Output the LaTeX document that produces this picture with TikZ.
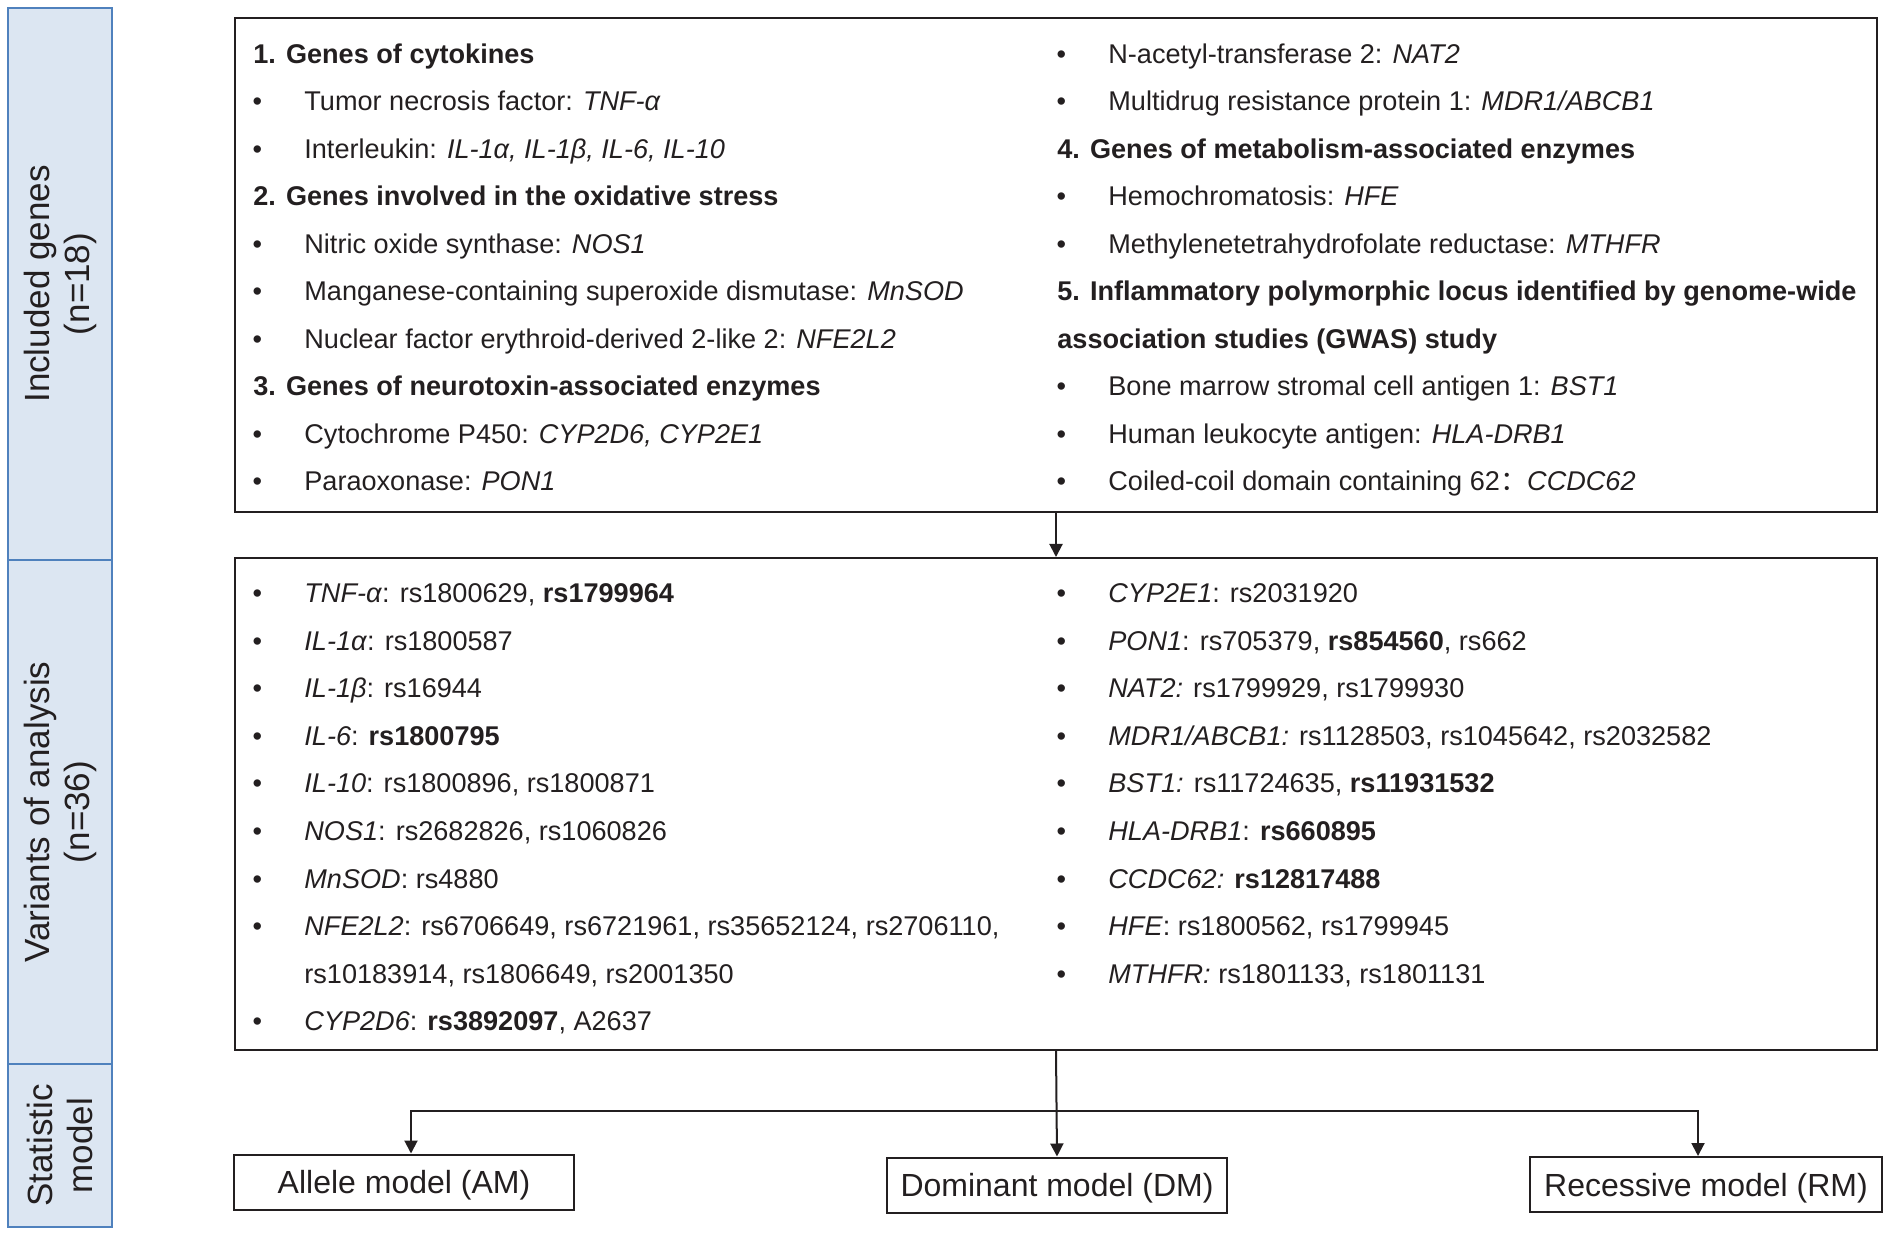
\documentclass[tikz,border=0pt]{standalone}
\usepackage{fontspec}
\setmainfont{Liberation Sans}
\newfontfamily\cjk{Noto Sans CJK SC}
\usetikzlibrary{arrows.meta}

\definecolor{sidefill}{RGB}{220,230,242}
\definecolor{sideline}{RGB}{79,129,189}
\definecolor{ink}{RGB}{35,31,32}
\newcommand{\itm}{\llap{\makebox[0pt]{\textbullet}\hspace{23.5pt}}}

\begin{document}
\begin{tikzpicture}[x=0.5pt, y=-0.5pt,
    side/.style={draw=sideline, line width=1pt, fill=sidefill, minimum width=52pt},
    sidetxt/.style={rotate=90, align=center, inner sep=0pt, text=ink,
      font=\fontsize{17.5}{20}\selectfont},
    box/.style={draw=ink, line width=1pt, minimum width=821pt},
    model/.style={draw=ink, line width=1pt, minimum width=170pt, minimum height=27.5pt,
      text depth=0pt, text=ink, font=\fontsize{16}{19}\selectfont},
    txt/.style={anchor=base west, inner sep=0pt, text=ink, font=\fontsize{13.55}{16}\selectfont},
    hd/.style={txt, font=\fontsize{13.55}{16}\selectfont\bfseries},
    arr/.style={draw=ink, line width=1pt, -{Triangle[length=6.5pt, width=6.5pt]}}]
  \useasboundingbox (0,0) rectangle (1890,1234);

  % side bar
  \node[side, minimum height=276pt] (s1) at (60,284) {};
  \node[side, minimum height=252pt] (s2) at (60,812) {};
  \node[side, minimum height=81.5pt] (s3) at (60,1145.5) {};
  \node[sidetxt] (s1t) at (s1) {Included genes\\(n=18)};
  \node[sidetxt] (s2t) at (s2) {Variants of analysis\\(n=36)};
  \node[sidetxt] (s3t) at (s3) {Statistic\\model};

  % boxes
  \node[box, minimum height=247pt] (genes) at (1056,265) {};
  \node[box, minimum height=246pt] (variants) at (1056,804) {};
  \node[model] (am) at (404,1182) {Allele model (AM)};
  \node[model] (dm) at (1057,1185) {Dominant model (DM)};
  \node[model, minimum width=176pt] (rm) at (1706,1184.5) {Recessive model (RM)};

  % included genes, left
  \node[hd] (h1) at (253,63.5) {1. Genes of cytokines};
  \node[txt] (g1) at (304,111) {\itm Tumor necrosis factor: \textit{TNF-α}};
  \node[txt] (g2) at (304,158.5) {\itm Interleukin: \textit{IL-1α, IL-1β, IL-6, IL-10}};
  \node[hd] (h2) at (253,206) {2. Genes involved in the oxidative stress};
  \node[txt] (g3) at (304,253.5) {\itm Nitric oxide synthase: \textit{NOS1}};
  \node[txt] (g4) at (304,301) {\itm Manganese-containing superoxide dismutase: \textit{MnSOD}};
  \node[txt] (g5) at (304,348.5) {\itm Nuclear factor erythroid-derived 2-like 2: \textit{NFE2L2}};
  \node[hd] (h3) at (253,396) {3. Genes of neurotoxin-associated enzymes};
  \node[txt] (g6) at (304,443.5) {\itm Cytochrome P450: \textit{CYP2D6, CYP2E1}};
  \node[txt] (g7) at (304,491) {\itm Paraoxonase: \textit{PON1}};

  % included genes, right
  \node[txt] (g8) at (1108,63.5) {\itm N-acetyl-transferase 2: \textit{NAT2}};
  \node[txt] (g9) at (1108,111) {\itm Multidrug resistance protein 1: \textit{MDR1/ABCB1}};
  \node[hd] (h4) at (1057,158.5) {4. Genes of metabolism-associated enzymes};
  \node[txt] (g10) at (1108,206) {\itm Hemochromatosis: \textit{HFE}};
  \node[txt] (g11) at (1108,253.5) {\itm Methylenetetrahydrofolate reductase: \textit{MTHFR}};
  \node[hd] (h5) at (1057,301) {5. Inflammatory polymorphic locus identified by genome-wide};
  \node[hd] (h5b) at (1057,348.5) {association studies (GWAS) study};
  \node[txt] (g12) at (1108,396) {\itm Bone marrow stromal cell antigen 1: \textit{BST1}};
  \node[txt] (g13) at (1108,443.5) {\itm Human leukocyte antigen: \textit{HLA-DRB1}};
  \node[txt] (g14) at (1108,491) {\itm Coiled-coil domain containing 62{\cjk ：}\textit{CCDC62}};

  % variants, left
  \node[txt] (v1) at (304,602.5) {\itm \textit{TNF-α}: rs1800629, \textbf{rs1799964}};
  \node[txt] (v2) at (304,650.1) {\itm \textit{IL-1α}: rs1800587};
  \node[txt] (v3) at (304,697.7) {\itm \textit{IL-1β}: rs16944};
  \node[txt] (v4) at (304,745.3) {\itm \textit{IL-6}: \textbf{rs1800795}};
  \node[txt] (v5) at (304,792.9) {\itm \textit{IL-10}: rs1800896, rs1800871};
  \node[txt] (v6) at (304,840.5) {\itm \textit{NOS1}: rs2682826, rs1060826};
  \node[txt] (v7) at (304,888.1) {\itm \textit{MnSOD}: rs4880};
  \node[txt] (v8) at (304,935.7) {\itm \textit{NFE2L2}: rs6706649, rs6721961, rs35652124, rs2706110,};
  \node[txt] (v8b) at (304,983.3) {rs10183914, rs1806649, rs2001350};
  \node[txt] (v9) at (304,1030.9) {\itm \textit{CYP2D6}: \textbf{rs3892097}, A2637};

  % variants, right
  \node[txt] (v10) at (1108,602.5) {\itm \textit{CYP2E1}: rs2031920};
  \node[txt] (v11) at (1108,650.1) {\itm \textit{PON1}: rs705379, \textbf{rs854560}, rs662};
  \node[txt] (v12) at (1108,697.7) {\itm \textit{NAT2:} rs1799929, rs1799930};
  \node[txt] (v13) at (1108,745.3) {\itm \textit{MDR1/ABCB1:} rs1128503, rs1045642, rs2032582};
  \node[txt] (v14) at (1108,792.9) {\itm \textit{BST1:} rs11724635, \textbf{rs11931532}};
  \node[txt] (v15) at (1108,840.5) {\itm \textit{HLA-DRB1}: \textbf{rs660895}};
  \node[txt] (v16) at (1108,888.1) {\itm \textit{CCDC62:} \textbf{rs12817488}};
  \node[txt] (v17) at (1108,935.7) {\itm \textit{HFE}: rs1800562, rs1799945};
  \node[txt] (v18) at (1108,983.3) {\itm \textit{MTHFR:} rs1801133, rs1801131};

  % connectors
  \coordinate (split) at (1057,1111);
  \draw[arr] (genes.south) -- (variants.north);
  \draw[arr] (variants.south) -- (dm.north);
  \draw[arr] (split) -| ([xshift=3.5pt]am.north);
  \draw[arr] (split) -| ([xshift=-4pt]rm.north);
\end{tikzpicture}
\end{document}
